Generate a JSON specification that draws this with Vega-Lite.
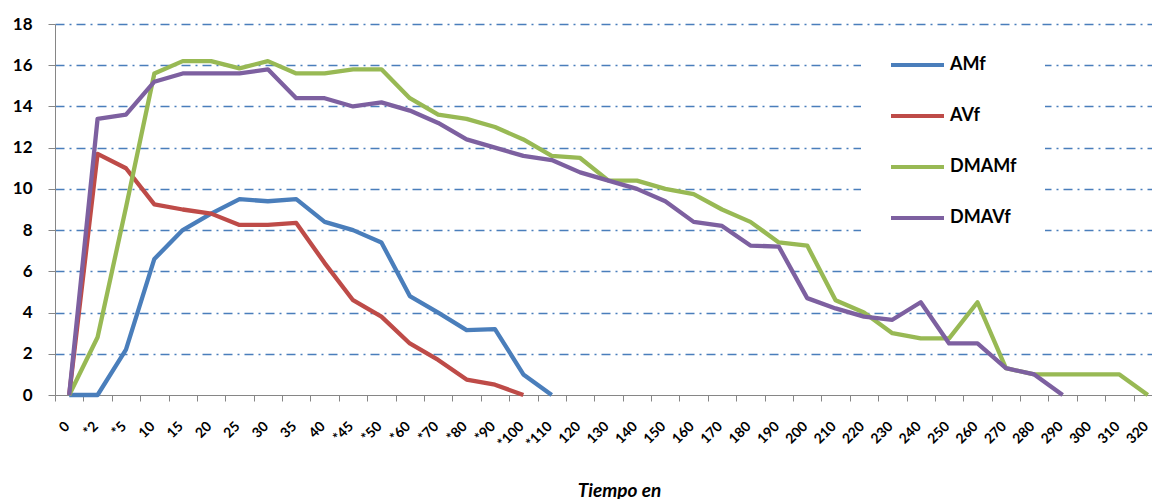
{
  "$schema": "https://vega.github.io/schema/vega-lite/v6.json",
  "width": 1097,
  "height": 371,
  "autosize": {"type": "none"},
  "padding": {"left": 55, "top": 24, "right": 0, "bottom": 104},
  "background": "white",
  "config": {"view": {"stroke": null}, "font": "Lato"},
  "data": {
    "values": [
      {"t": "0", "AMf": 0, "AVf": 0, "DMAMf": 0, "DMAVf": 0},
      {"t": "*2", "AMf": 0, "AVf": 11.7, "DMAMf": 2.8, "DMAVf": 13.4},
      {"t": "*5", "AMf": 2.2, "AVf": 11.0, "DMAMf": 9.1, "DMAVf": 13.6},
      {"t": "10", "AMf": 6.6, "AVf": 9.25, "DMAMf": 15.6, "DMAVf": 15.2},
      {"t": "15", "AMf": 8.0, "AVf": 9.0, "DMAMf": 16.2, "DMAVf": 15.6},
      {"t": "20", "AMf": 8.8, "AVf": 8.8, "DMAMf": 16.2, "DMAVf": 15.6},
      {"t": "25", "AMf": 9.5, "AVf": 8.25, "DMAMf": 15.85, "DMAVf": 15.6},
      {"t": "30", "AMf": 9.4, "AVf": 8.25, "DMAMf": 16.2, "DMAVf": 15.8},
      {"t": "35", "AMf": 9.5, "AVf": 8.35, "DMAMf": 15.6, "DMAVf": 14.4},
      {"t": "40", "AMf": 8.4, "AVf": 6.4, "DMAMf": 15.6, "DMAVf": 14.4},
      {"t": "*45", "AMf": 8.0, "AVf": 4.6, "DMAMf": 15.8, "DMAVf": 14.0},
      {"t": "*50", "AMf": 7.4, "AVf": 3.8, "DMAMf": 15.8, "DMAVf": 14.2},
      {"t": "*60", "AMf": 4.8, "AVf": 2.5, "DMAMf": 14.4, "DMAVf": 13.8},
      {"t": "*70", "AMf": 4.0, "AVf": 1.7, "DMAMf": 13.6, "DMAVf": 13.2},
      {"t": "*80", "AMf": 3.15, "AVf": 0.75, "DMAMf": 13.4, "DMAVf": 12.4},
      {"t": "*90", "AMf": 3.2, "AVf": 0.5, "DMAMf": 13.0, "DMAVf": 12.0},
      {"t": "*100", "AMf": 1.0, "AVf": 0, "DMAMf": 12.4, "DMAVf": 11.6},
      {"t": "*110", "AMf": 0, "DMAMf": 11.6, "DMAVf": 11.4},
      {"t": "120", "DMAMf": 11.5, "DMAVf": 10.8},
      {"t": "130", "DMAMf": 10.4, "DMAVf": 10.4},
      {"t": "140", "DMAMf": 10.4, "DMAVf": 10.0},
      {"t": "150", "DMAMf": 10.0, "DMAVf": 9.4},
      {"t": "160", "DMAMf": 9.75, "DMAVf": 8.4},
      {"t": "170", "DMAMf": 9.0, "DMAVf": 8.2},
      {"t": "180", "DMAMf": 8.4, "DMAVf": 7.25},
      {"t": "190", "DMAMf": 7.4, "DMAVf": 7.2},
      {"t": "200", "DMAMf": 7.25, "DMAVf": 4.7},
      {"t": "210", "DMAMf": 4.6, "DMAVf": 4.2},
      {"t": "220", "DMAMf": 4.0, "DMAVf": 3.8},
      {"t": "230", "DMAMf": 3.0, "DMAVf": 3.65},
      {"t": "240", "DMAMf": 2.75, "DMAVf": 4.5},
      {"t": "250", "DMAMf": 2.75, "DMAVf": 2.5},
      {"t": "260", "DMAMf": 4.5, "DMAVf": 2.5},
      {"t": "270", "DMAMf": 1.3, "DMAVf": 1.3},
      {"t": "280", "DMAMf": 1.0, "DMAVf": 1.0},
      {"t": "290", "DMAMf": 1.0, "DMAVf": 0},
      {"t": "300", "DMAMf": 1.0},
      {"t": "310", "DMAMf": 1.0},
      {"t": "320", "DMAMf": 0}
    ]
  },
  "transform": [
    {"fold": ["AMf", "AVf", "DMAMf", "DMAVf"], "as": ["serie", "valor"]},
    {"filter": "datum.valor != null"}
  ],
  "mark": {"type": "line", "strokeWidth": 4.3, "strokeJoin": "round"},
  "encoding": {
    "x": {
      "field": "t",
      "type": "ordinal",
      "sort": ["0", "*2", "*5", "10", "15", "20", "25", "30", "35", "40", "*45", "*50", "*60", "*70", "*80", "*90", "*100", "*110", "120", "130", "140", "150", "160", "170", "180", "190", "200", "210", "220", "230", "240", "250", "260", "270", "280", "290", "300", "310", "320"],
      "scale": {"type": "band", "paddingInner": 0, "paddingOuter": 0, "range": [0, 1107]},
      "axis": {
        "title": "Tiempo en",
        "titleFont": "Lato",
        "titleFontSize": 19,
        "titleFontWeight": "bold",
        "titleFontStyle": "italic",
        "titleColor": "black",
        "titleX": 564,
        "titleY": 101,
        "titleAlign": "center",
        "titleBaseline": "alphabetic",
        "labelAngle": -45,
        "labelAlign": "right",
        "labelBaseline": "middle",
        "labelFontSize": 14,
        "labelFontWeight": "bold",
        "labelColor": "black",
        "labelPadding": 23,
        "labelOffset": -2,
        "labelOverlap": false,
        "tickBand": "extent",
        "tickSize": 6,
        "tickColor": "#868686",
        "domainColor": "#868686",
        "grid": false
      }
    },
    "y": {
      "field": "valor",
      "type": "quantitative",
      "scale": {"domain": [0, 18], "nice": false},
      "axis": {
        "title": null,
        "values": [0, 2, 4, 6, 8, 10, 12, 14, 16, 18],
        "labelFontSize": 17,
        "labelFontWeight": "bold",
        "labelColor": "black",
        "labelPadding": 16,
        "tickSize": 7,
        "tickColor": "#868686",
        "domainColor": "#868686",
        "gridColor": {"condition": {"test": "datum.value === 0", "value": "transparent"}, "value": "#4a7ebb"},
        "gridDash": [9, 5, 2, 5],
        "gridWidth": 1.3
      }
    },
    "color": {
      "field": "serie",
      "type": "nominal",
      "scale": {
        "domain": ["AMf", "AVf", "DMAMf", "DMAVf"],
        "range": ["#4a7ebb", "#be4b48", "#98b954", "#7d60a0"]
      },
      "legend": {
        "title": null,
        "orient": "none",
        "legendX": 806,
        "legendY": 3,
        "fillColor": "white",
        "padding": 28,
        "clipHeight": 20,
        "symbolType": "stroke",
        "symbolSize": 2809,
        "symbolStrokeWidth": 4,
        "labelFontSize": 18,
        "labelFontWeight": "bold",
        "labelColor": "black",
        "labelOffset": 4,
        "rowPadding": 31
      }
    }
  }
}
